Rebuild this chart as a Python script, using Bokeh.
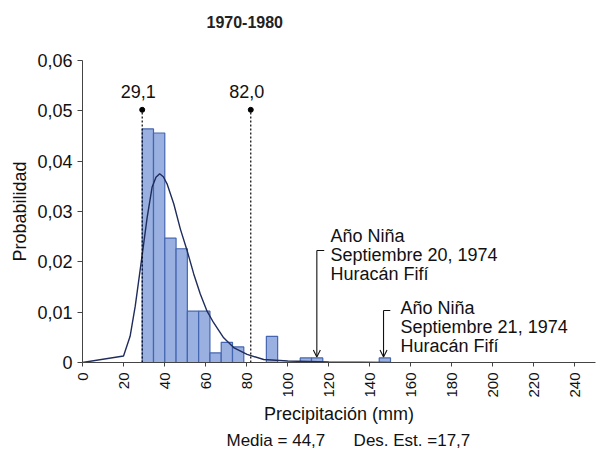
import math
from bokeh.plotting import figure
from bokeh.models import FixedTicker, Arrow, OpenHead, Range1d, Title
from bokeh.embed import file_html
from bokeh.resources import INLINE
from bokeh.core.properties import value

# ---------------- data ----------------
title_text = "1970-1980"
x_axis_title = "Precipitación (mm)"
y_axis_title = "Probabilidad"

bin_left = [29.1, 34.6, 40.1, 45.6, 51.1, 56.6, 62.1, 67.6, 73.1, 78.6, 84.1,
            89.6, 95.1, 100.6, 106.1, 111.6, 117.1, 122.6, 128.1, 133.6, 139.1, 144.6]
bin_right = [34.6, 40.1, 45.6, 51.1, 56.6, 62.1, 67.6, 73.1, 78.6, 84.1, 89.6,
             95.1, 100.6, 106.1, 111.6, 117.1, 122.6, 128.1, 133.6, 139.1, 144.6, 150.1]
bin_prob = [0.0464, 0.0456, 0.0247, 0.0226, 0.0102, 0.0102, 0.0019, 0.0040, 0.0031, 0.0, 0.0,
            0.0052, 0.0, 0.0, 0.0009, 0.0009, 0.0, 0.0, 0.0, 0.0, 0.0, 0.0009]

curve_x = [0, 20.0, 23.2, 25.7, 28.7, 31.5, 33.9, 35.8, 37.6, 39.4, 41.2, 44.5, 47.7,
           51.0, 54.2, 57.4, 60.7, 63.9, 68.8, 73.9, 80.2, 88.3, 100, 120, 150]
curve_y = [0, 0.0013, 0.0052, 0.0112, 0.0202, 0.0288, 0.0348, 0.0368, 0.0375, 0.0369,
           0.0355, 0.0315, 0.0265, 0.0222, 0.0176, 0.0136, 0.0102, 0.0079, 0.0049,
           0.0029, 0.0016, 0.0006, 0.0003, 0.0001, 0.0]

x_ticks = [0, 20, 40, 60, 80, 100, 120, 140, 160, 180, 200, 220, 240]
y_ticks = [0, 0.01, 0.02, 0.03, 0.04, 0.05, 0.06]
y_tick_labels = ["0", "0,01", "0,02", "0,03", "0,04", "0,05", "0,06"]

thresholds = [29.1, 82.0]
threshold_labels = ["29,1", "82,0"]
threshold_top = 0.0502

event_x = [114.2, 146.7]
event_bar_top = [0.0011, 0.0011]
event_bracket_y = [0.02225, 0.01033]
event_text_y = [0.0251, 0.0109]
event_lines = [["Año Niña", "Septiembre 20, 1974", "Huracán Fifí"],
               ["Año Niña", "Septiembre 21, 1974", "Huracán Fifí"]]

stats_texts = ["Media = 44,7", "Des. Est. =17,7"]

# ---------------- figure ----------------
FONT = "Liberation Sans"

p = figure(width=596, height=452, x_range=Range1d(0, 250), y_range=Range1d(0, 0.06),
           output_backend="svg", toolbar_location=None,
           min_border_left=82, min_border_right=1, min_border_top=60, min_border_bottom=90)
p.outline_line_color = None
p.grid.visible = False
p.background_fill_color = "white"
p.border_fill_color = "white"

# real title (outermost slot) + empty spacer between it and the frame
p.title.text = title_text
p.title.align = "left"
p.title.offset = 124
p.title.text_font = FONT
p.title.text_font_size = "16px"
p.title.text_font_style = "bold"
p.title.text_color = "#222"
p.add_layout(Title(text=" ", text_font_size="14px"), "above")

# histogram (non-zero bins)
nz = [i for i, v in enumerate(bin_prob) if v > 0]
p.quad(left=[bin_left[i] for i in nz], right=[bin_right[i] for i in nz],
       bottom=0, top=[bin_prob[i] for i in nz],
       fill_color="#93acdf", fill_alpha=0.95, line_color="#4466b0", line_width=1.2)

# fitted curve
p.line(curve_x, curve_y, line_color="#1f2c5c", line_width=1.4)

# threshold dotted lines
p.segment(x0=thresholds, y0=[0] * len(thresholds), x1=thresholds,
          y1=[threshold_top] * len(thresholds),
          line_color="black", line_dash="2 2", line_width=1.2)
p.scatter(thresholds, [threshold_top] * len(thresholds), size=5, color="black")
p.text(x=thresholds, y=[0.0538] * len(thresholds), text=threshold_labels,
       text_align="center", text_baseline="middle", x_offset=-4,
       text_font=value(FONT), text_font_size="18px", text_color="#111")

# event annotations
bracket_len = [3.6, 3.3]
text_gap = [6.6, 8.3]
for k in range(len(event_x)):
    xs = event_x[k]
    p.add_layout(Arrow(end=OpenHead(size=7, line_width=1.1, line_color="#111"),
                       x_start=xs, y_start=event_bracket_y[k],
                       x_end=xs, y_end=event_bar_top[k],
                       line_color="#111", line_width=1.1))
    p.segment(x0=[xs], y0=[event_bracket_y[k]], x1=[xs + bracket_len[k]],
              y1=[event_bracket_y[k]], line_color="#111", line_width=1.1)
    lines = event_lines[k]
    p.text(x=[xs + text_gap[k]] * len(lines),
           y=[event_text_y[k]] * len(lines),
           text=lines, y_offset=[19 * i for i in range(len(lines))],
           text_align="left", text_baseline="middle",
           text_font=value(FONT), text_font_size="18px", text_color="#111")

# axes
for ax in (p.xaxis, p.yaxis):
    ax.axis_line_color = "#444"
    ax.major_tick_line_color = "#444"
    ax.minor_tick_line_color = None
    ax.major_label_text_font = FONT
    ax.major_label_text_color = "#111"
    ax.axis_label_text_font = FONT
    ax.axis_label_text_font_style = "normal"
    ax.axis_label_text_color = "#111"

p.xaxis.ticker = FixedTicker(ticks=x_ticks)
p.xaxis.major_label_orientation = math.pi / 2
p.xaxis.major_label_text_font_size = "15px"
p.xaxis.major_tick_out = 4
p.xaxis.major_tick_in = 0
p.xaxis.major_label_standoff = 6
p.xaxis.axis_label = x_axis_title
p.xaxis.axis_label_text_font_size = "18px"
p.xaxis.axis_label_standoff = 3

p.yaxis.ticker = FixedTicker(ticks=y_ticks)
p.yaxis.major_label_overrides = dict(zip(y_ticks, y_tick_labels))
p.yaxis.major_label_text_font_size = "18px"
p.yaxis.major_tick_out = 5
p.yaxis.major_tick_in = 0
p.yaxis.major_label_standoff = 5
p.yaxis.axis_label = y_axis_title
p.yaxis.axis_label_text_font_size = "18px"
p.yaxis.axis_label_standoff = 4

# statistics line below the axis title
gap = "\u00a0" * 6
p.add_layout(Title(text=stats_texts[0] + gap + stats_texts[1], align="left", offset=144,
                   standoff=5, text_font=FONT, text_font_size="17px",
                   text_font_style="normal", text_color="#111"), "below")

open("out.html", "w").write(file_html(p, INLINE))
